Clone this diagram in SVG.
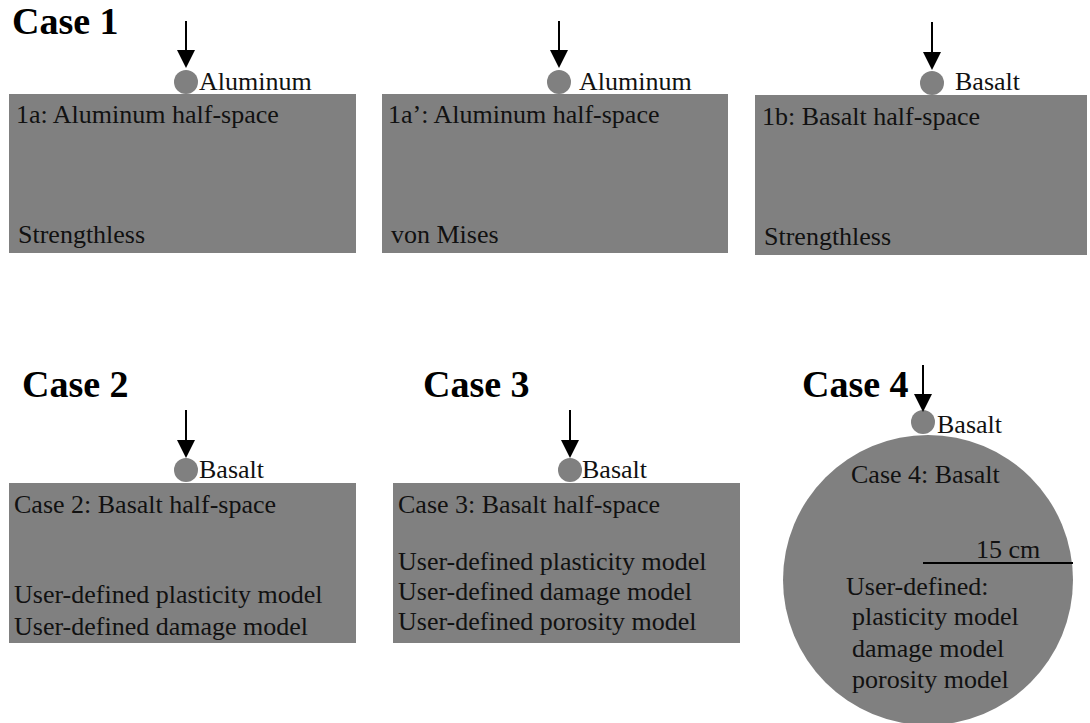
<svg xmlns="http://www.w3.org/2000/svg" width="1090" height="723" viewBox="0 0 1090 723">
<style>
.t{font-size:26px;fill:#111}
.h{font-size:38px;font-weight:bold;fill:#000}
.blk{fill:#808080}
.ball{fill:#808080}
.arr{stroke:#000;stroke-width:2;fill:none}
.ah{fill:#000}
</style>
<rect width="1090" height="723" fill="#fff"/>
<g font-family="Liberation Serif, Times New Roman, Times, serif">
<g id="titles">
<text class="h" x="12" y="34">Case 1</text>
<text class="h" x="22" y="397">Case 2</text>
<text class="h" x="423" y="397">Case 3</text>
<text class="h" x="802" y="397">Case 4</text>
</g>
<g id="case1a">
<rect class="blk" x="9" y="94" width="347" height="159"/>
<circle class="ball" cx="186" cy="82" r="12"/>
<text class="t" x="199" y="90">Aluminum</text>
<text class="t" x="16" y="123">1a: Aluminum half-space</text>
<text class="t" x="18" y="243">Strengthless</text>
</g>
<g id="case1a2">
<rect class="blk" x="382" y="94" width="346" height="159"/>
<circle class="ball" cx="559" cy="82" r="12"/>
<text class="t" x="579" y="90">Aluminum</text>
<text class="t" x="388" y="123">1a’: Aluminum half-space</text>
<text class="t" x="391" y="243">von Mises</text>
</g>
<g id="case1b">
<rect class="blk" x="755" y="95" width="332" height="160"/>
<circle class="ball" cx="932" cy="83" r="12"/>
<text class="t" x="955" y="90">Basalt</text>
<text class="t" x="762" y="125">1b: Basalt half-space</text>
<text class="t" x="764" y="245">Strengthless</text>
</g>
<g id="case2">
<rect class="blk" x="9" y="483" width="347" height="160"/>
<circle class="ball" cx="186" cy="470" r="12"/>
<text class="t" x="199" y="478">Basalt</text>
<text class="t" x="14" y="513">Case 2: Basalt half-space</text>
<text class="t" x="14" y="603">User-defined plasticity model</text>
<text class="t" x="14" y="635">User-defined damage model</text>
</g>
<g id="case3">
<rect class="blk" x="393" y="483" width="347" height="160"/>
<circle class="ball" cx="570" cy="470" r="12"/>
<text class="t" x="582" y="478">Basalt</text>
<text class="t" x="398" y="513">Case 3: Basalt half-space</text>
<text class="t" x="398" y="570">User-defined plasticity model</text>
<text class="t" x="398" y="600">User-defined damage model</text>
<text class="t" x="398" y="630">User-defined porosity model</text>
</g>
<g id="case4">
<circle class="blk" cx="928" cy="580" r="145"/>
<circle class="ball" cx="923" cy="422" r="12"/>
<text class="t" x="937" y="433">Basalt</text>
<text class="t" x="851" y="483">Case 4: Basalt</text>
<text class="t" x="976" y="558">15 cm</text>
<line x1="923" y1="563" x2="1073" y2="563" stroke="#000" stroke-width="2"/>
<text class="t" x="846" y="595">User-defined:</text>
<text class="t" x="852" y="625">plasticity model</text>
<text class="t" x="852" y="657">damage model</text>
<text class="t" x="852" y="688">porosity model</text>
</g>
</g>
<g id="connectors">
<line class="arr" x1="186" y1="21" x2="186" y2="55"/>
<polygon class="ah" points="177,50 195,50 186,68"/>
<line class="arr" x1="559" y1="21" x2="559" y2="55"/>
<polygon class="ah" points="550,50 568,50 559,68"/>
<line class="arr" x1="932" y1="22" x2="932" y2="57"/>
<polygon class="ah" points="923,52 941,52 932,70"/>
<line class="arr" x1="186" y1="410" x2="186" y2="445"/>
<polygon class="ah" points="177,440 195,440 186,458"/>
<line class="arr" x1="570" y1="410" x2="570" y2="445"/>
<polygon class="ah" points="561,440 579,440 570,458"/>
<line class="arr" x1="923" y1="365" x2="923" y2="399"/>
<polygon class="ah" points="914,394 932,394 923,412"/>
</g>
</svg>
